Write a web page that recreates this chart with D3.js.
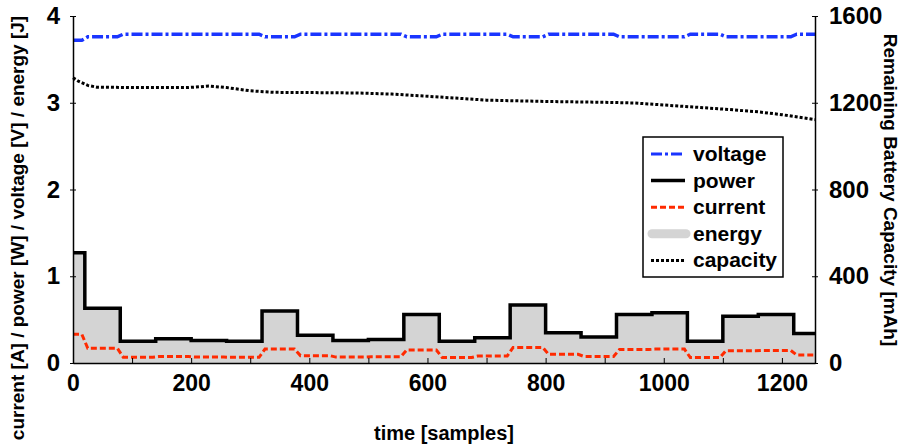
<!DOCTYPE html>
<html>
<head>
<meta charset="utf-8">
<script src="https://cdn.jsdelivr.net/npm/d3@7"></script>
<style>
  body { margin: 0; background: #fff; }
  text { font-family: "Liberation Sans", Arial, Helvetica, sans-serif; font-weight: bold; }
</style>
</head>
<body>
<div id="chart"></div>
<script>
// segment start sample of each measurement step
const segStart = [0, 20, 80, 140, 200, 260, 320, 380, 440, 500, 560, 620, 680, 740, 800, 860, 920, 980, 1040, 1100, 1160, 1220];
const lastSample = 1256;
// values per segment
const power   = [1.27, 0.63, 0.25, 0.28, 0.26, 0.25, 0.60, 0.32, 0.26, 0.27, 0.56, 0.25, 0.29, 0.67, 0.35, 0.30, 0.56, 0.58, 0.25, 0.54, 0.56, 0.34];
const current = [0.33, 0.17, 0.067, 0.074, 0.069, 0.066, 0.16, 0.085, 0.068, 0.072, 0.15, 0.063, 0.08, 0.18, 0.10, 0.075, 0.155, 0.16, 0.062, 0.14, 0.145, 0.092];
const voltage = [3.72, 3.76, 3.79, 3.79, 3.79, 3.79, 3.76, 3.79, 3.79, 3.79, 3.76, 3.79, 3.79, 3.76, 3.79, 3.79, 3.76, 3.76, 3.79, 3.76, 3.76, 3.79];
// remaining capacity (mAh)
const capSample = [0, 10, 25, 40, 100, 195, 230, 260, 300, 340, 400, 480, 540, 600, 700, 800, 900, 950, 1030, 1110, 1160, 1200, 1256];
const capacity  = [1315, 1298, 1280, 1272, 1270, 1270, 1277, 1270, 1255, 1248, 1247, 1245, 1240, 1230, 1212, 1206, 1202, 1199, 1184, 1169, 1158, 1145, 1122];
const xTicks = [0, 100, 200, 300, 400, 500, 600, 700, 800, 900, 1000, 1100, 1200];
const yTicks = [0, 1, 2, 3, 4];
const yRTicks = [0, 400, 800, 1200, 1600];
const legendNames = ["voltage", "power", "current", "energy", "capacity"];

const margin = { top: 16, right: 89, bottom: 83, left: 73 };
const width = 904 - margin.left - margin.right;
const height = 446 - margin.top - margin.bottom;

const svgRoot = d3.select("#chart").append("svg")
    .attr("width", 904)
    .attr("height", 446);
const svg = svgRoot.append("g")
    .attr("transform", `translate(${margin.left},${margin.top})`);

const x = d3.scaleLinear().domain([0, lastSample]).range([0, width]);
const y = d3.scaleLinear().domain([0, 4]).range([height, 0]);
const yR = d3.scaleLinear().domain([0, 1600]).range([height, 0]);

// step points (hold value until next segment)
const stepPts = vals => {
    const pts = segStart.map((s, i) => [s, vals[i]]);
    pts.push([lastSample, vals[vals.length - 1]]);
    return pts;
};
// points with short ramps between segments
const rampPts = vals => {
    const pts = [];
    segStart.forEach((s, i) => {
        const a = i === 0 ? 0 : s + 5;
        const b = i === segStart.length - 1 ? lastSample : segStart[i + 1] - 5;
        pts.push([a, vals[i]], [b, vals[i]]);
    });
    return pts;
};

const colors = { voltage: "#1a35ff", power: "#000", current: "#ff2a00", energy: "#d4d4d4", capacity: "#000" };

// energy area
svg.append("path")
    .datum(stepPts(power))
    .attr("fill", colors.energy)
    .attr("d", d3.area().curve(d3.curveStepAfter)
        .x(d => x(d[0])).y0(y(0)).y1(d => y(d[1])));

const line = d3.line().x(d => x(d[0])).y(d => y(d[1]));

svg.append("path")
    .datum(rampPts(current))
    .attr("fill", "none").attr("stroke", colors.current)
    .attr("stroke-width", 3).attr("stroke-dasharray", "6,3")
    .attr("d", line);

svg.append("path")
    .datum(stepPts(power))
    .attr("fill", "none").attr("stroke", colors.power)
    .attr("stroke-width", 3.5)
    .attr("d", d3.line().curve(d3.curveStepAfter).x(d => x(d[0])).y(d => y(d[1])));

svg.append("path")
    .datum(rampPts(voltage))
    .attr("fill", "none").attr("stroke", colors.voltage)
    .attr("stroke-width", 3.5).attr("stroke-dasharray", "11,3,3,3")
    .attr("d", line);

svg.append("path")
    .datum(capSample.map((s, i) => [s, capacity[i]]))
    .attr("fill", "none").attr("stroke", colors.capacity)
    .attr("stroke-width", 3).attr("stroke-dasharray", "3,2")
    .attr("d", d3.line().x(d => x(d[0])).y(d => yR(d[1])));

// axes
const gx = svg.append("g")
    .attr("transform", `translate(0,${height})`)
    .call(d3.axisBottom(x).tickValues(xTicks)
        .tickFormat(d => d % 200 === 0 ? d : "")
        .tickSizeInner(-5).tickSizeOuter(0).tickPadding(12));

const gy = svg.append("g")
    .call(d3.axisLeft(y).tickValues(yTicks).tickFormat(d3.format("d"))
        .tickSizeOuter(0).tickPadding(7));
gy.selectAll(".tick line").attr("x1", 3).attr("x2", -3);

const gyR = svg.append("g")
    .attr("transform", `translate(${width},0)`)
    .call(d3.axisRight(yR).tickValues(yRTicks).tickFormat(d3.format("d"))
        .tickSizeOuter(0).tickPadding(8));
gyR.selectAll(".tick line").attr("x1", -3).attr("x2", 3);

[gx, gy, gyR].forEach(g => {
    g.selectAll("text").style("font-size", "23px").attr("fill", "#000");
    g.select(".domain").attr("stroke-width", 1.5);
    g.selectAll(".tick line").attr("stroke-width", 1);
});
gy.selectAll("text").style("font-size", "24px");
gyR.selectAll("text").style("font-size", "24px");

// axis titles
svgRoot.append("text")
    .attr("x", margin.left + width / 2).attr("y", 440)
    .attr("text-anchor", "middle").style("font-size", "20px")
    .text("time [samples]");

svgRoot.append("text")
    .attr("transform", "translate(24,228) rotate(-90)")
    .attr("text-anchor", "middle").style("font-size", "19px")
    .text("current [A] / power [W] / voltage [V] / energy [J]");

svgRoot.append("text")
    .attr("transform", "translate(884,190) rotate(90)")
    .attr("text-anchor", "middle").style("font-size", "19px")
    .text("Remaining Battery Capacity [mAh]");

// legend
const legend = svgRoot.append("g").attr("transform", "translate(643,137)");
legend.append("rect")
    .attr("width", 140).attr("height", 140)
    .attr("fill", "#fff").attr("stroke", "#000").attr("stroke-width", 1.5);

const legendStyle = {
    voltage:  { w: 3, dash: "11,3,3,3" },
    power:    { w: 3.5, dash: null },
    current:  { w: 3, dash: "6,3" },
    energy:   { w: 9, dash: null },
    capacity: { w: 3, dash: "3,2" }
};
legendNames.forEach((name, i) => {
    const cy = 17 + i * 26.6;
    const st = legendStyle[name];
    legend.append("line")
        .attr("x1", name === "energy" ? 9 : 8).attr("x2", name === "energy" ? 43 : 42)
        .attr("y1", cy).attr("y2", cy)
        .attr("stroke", colors[name]).attr("stroke-width", st.w)
        .attr("stroke-linecap", name === "energy" ? "round" : "butt")
        .attr("stroke-dasharray", st.dash);
    legend.append("text")
        .attr("x", 50).attr("y", cy + 7)
        .style("font-size", "21px")
        .text(name);
});
</script>
</body>
</html>
